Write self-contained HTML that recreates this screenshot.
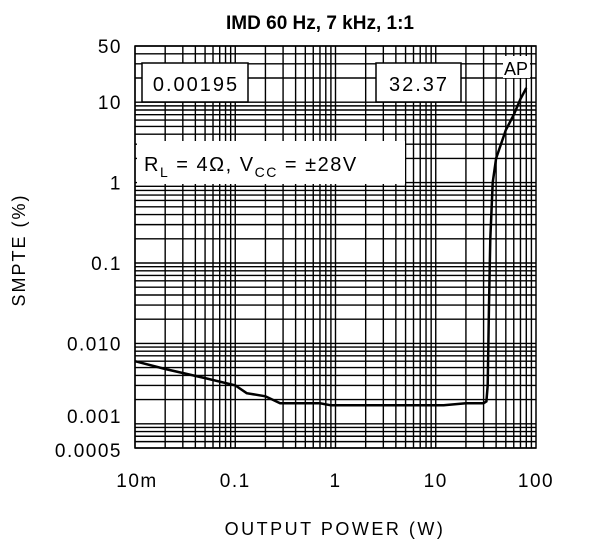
<!DOCTYPE html>
<html><head><meta charset="utf-8"><style>
body{margin:0;background:#fff}
text{font-family:"Liberation Sans",sans-serif;fill:#000}
</style></head><body>
<svg width="608" height="542" viewBox="0 0 608 542">
<g id="grid"></g>
<rect x="142" y="63" width="106" height="39" fill="#fff" stroke="#000" stroke-width="1.5"/>
<text x="196" y="91" font-size="20" letter-spacing="2" text-anchor="middle">0.00195</text>
<rect x="376" y="63" width="85" height="39" fill="#fff" stroke="#000" stroke-width="1.5"/>
<text x="419" y="91" font-size="20" letter-spacing="2" text-anchor="middle">32.37</text>
<rect x="503" y="56" width="27" height="22" fill="#fff"/>
<text x="516" y="75" font-size="18" text-anchor="middle">AP</text>
<rect x="137" y="141" width="268" height="43" fill="#fff"/>
<text x="144" y="171" font-size="20" letter-spacing="1.5">R<tspan font-size="14" dy="6">L</tspan><tspan dy="-6"> = 4Ω, V</tspan><tspan font-size="14" dy="6">CC</tspan><tspan dy="-6"> = ±28V</tspan></text>
<path id="curve" fill="none" stroke="#000" stroke-width="2.5"/>
<rect x="135" y="46" width="401" height="402" fill="none" stroke="#000" stroke-width="1.5"/>
<text x="320" y="29" font-size="19" font-weight="bold" text-anchor="middle">IMD 60 Hz, 7 kHz, 1:1</text>
<text x="335" y="535" font-size="18" text-anchor="middle" letter-spacing="2.5">OUTPUT POWER (W)</text>
<text transform="translate(25,250) rotate(-90)" font-size="18" text-anchor="middle" letter-spacing="2">SMPTE (%)</text>
<g id="ticks"></g>
</svg>
<script>
const xTicks=[0.01,0.1,1,10,100];
const xTickLabels=["10m","0.1","1","10","100"];
const yTicks=[50,10,1,0.1,0.01,0.001,0.0005];
const yTickLabels=["50","10","1","0.1","0.010","0.001","0.0005"];
const powerW=[0.01,0.02,0.05,0.1,0.13,0.2,0.28,0.5,0.7,0.9,1,3,8,12,20,30,32,33,34,35,37,40,50,60,70,80];
const smptePct=[0.006,0.0048,0.0037,0.003,0.0024,0.0022,0.0018,0.0018,0.0018,0.0017,0.0017,0.0017,0.0017,0.0017,0.0018,0.0018,0.0019,0.003,0.03,0.2,1,2,4.5,7,11,15];
const NS="http://www.w3.org/2000/svg";
const L=135,R=536,T=46,B=448;
const X=v=>L+(Math.log10(v)+2)*(R-L)/4;
const Y=v=>T+(Math.log10(50)-Math.log10(v))*(B-T)/(Math.log10(50)-Math.log10(0.0005));
const g=document.getElementById('grid');
function line(x1,y1,x2,y2){const l=document.createElementNS(NS,'line');l.setAttribute('x1',x1);l.setAttribute('y1',y1);l.setAttribute('x2',x2);l.setAttribute('y2',y2);l.setAttribute('stroke','#000');l.setAttribute('stroke-width','1.4');


g.appendChild(l);}
for(let d=-2;d<2;d++)for(let m=1;m<10;m++){const x=X(m*Math.pow(10,d));line(x,T,x,B);}
for(let d=-4;d<2;d++)for(let m=1;m<10;m++){const v=m*Math.pow(10,d);if(v<0.0005||v>50)continue;const y=Y(v);line(L,y,R,y);}
document.getElementById('curve').setAttribute('d',powerW.map((p,i)=>(i?'L':'M')+X(p).toFixed(1)+' '+Y(smptePct[i]).toFixed(1)).join(' '));
const tk=document.getElementById('ticks');
xTicks.forEach((v,i)=>{const t=document.createElementNS(NS,'text');t.setAttribute('x',X(v)+(i==0?2:0));t.setAttribute('y',487);t.setAttribute('font-size','19');t.setAttribute('letter-spacing','1.5');t.setAttribute('text-anchor','middle');t.textContent=xTickLabels[i];


tk.appendChild(t);});
yTicks.forEach((v,i)=>{const t=document.createElementNS(NS,'text');t.setAttribute('x',122);t.setAttribute('y',Y(v)+(v==0.001?-1:7)+(v==0.0005?2:0));t.setAttribute('font-size','19');t.setAttribute('letter-spacing','1.5');t.setAttribute('text-anchor','end');t.textContent=yTickLabels[i];


tk.appendChild(t);});
</script>
</body></html>
